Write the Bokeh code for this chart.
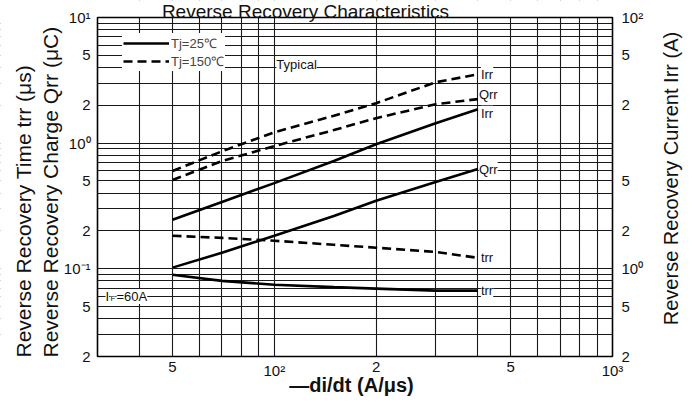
import math
from bokeh.plotting import figure
from bokeh.models import (Range1d, LogScale, FixedTicker, Grid, Label, Legend, LegendItem,
                          BoxAnnotation)
from bokeh.embed import file_html
from bokeh.resources import INLINE

# ---------------- data ----------------
di_dt = [50, 70, 100, 150, 200, 300, 400]          # -di/dt (A/us)
irr_25 = [2.45, 3.4, 4.8, 7.2, 9.8, 14.4, 18.6]    # Irr (A), Tj=25C
irr_150 = [6.0, 8.6, 12.2, 16.5, 20.8, 30.5, 35.3] # Irr (A), Tj=150C
qrr_25 = [0.102, 0.134, 0.183, 0.263, 0.347, 0.49, 0.622]   # Qrr (uC)
qrr_150 = [0.508, 0.72, 0.947, 1.27, 1.58, 2.04, 2.24]
trr_25 = [0.0896, 0.080, 0.0746, 0.0713, 0.0694, 0.0669, 0.0669]  # trr (us)
trr_150 = [0.183, 0.176, 0.167, 0.155, 0.147, 0.136, 0.122]

x_ticks = [50, 100, 200, 500, 1000]
x_tick_labels = ["5", "10²", "2", "5", "10³"]
y_ticks = [0.02, 0.05, 0.1, 0.2, 0.5, 1, 2, 5, 10]
y_tick_labels = ["2", "5", "10⁻¹", "2", "5", "10⁰", "2", "5", "10¹"]
y2_ticks = [0.2, 0.5, 1, 2, 5, 20, 50, 100]
y2_tick_labels = ["2", "5", "10⁰", "2", "5", "2", "5", "10²"]
x_grid = [40, 50, 60, 70, 80, 90, 100, 200, 300, 400, 500, 600, 700, 800, 900]
y_grid = [0.03, 0.04, 0.05, 0.06, 0.07, 0.08, 0.09,
          0.1, 0.2, 0.3, 0.4, 0.5, 0.6, 0.7, 0.8, 0.9,
          1, 2, 3, 4, 5, 6, 7, 8, 9]
X_MIN, X_MAX = 30, 1000
Y_MIN, Y_MAX = 0.02, 10
IRR_FACTOR = 10   # right axis (A) = left axis value x 10

title_text = "Reverse Recovery Characteristics"
x_title = "—di/dt (A/μs)"
y_title_1 = "Reverse Recovery Time trr (μs)"
y_title_2 = "Reverse Recovery Charge Qrr (μC)"
y2_title = "Reverse Recovery Current Irr (A)"

FONT = "Liberation Sans"
INK = "#111111"

# ---------------- layout (pixels) ----------------
W, H = 690, 408
BOX_L, BOX_R, BOX_T, BOX_B = 97, 612, 17, 356      # chart box, page coords from top-left
kx = (BOX_R - BOX_L) / math.log10(X_MAX / X_MIN)
ky = (BOX_B - BOX_T) / math.log10(Y_MAX / Y_MIN)
x_lo = X_MIN / 10 ** (BOX_L / kx)
x_hi = X_MAX * 10 ** ((W - BOX_R) / kx)
y_lo = Y_MIN / 10 ** ((H - BOX_B) / ky)
y_hi = Y_MAX * 10 ** (BOX_T / ky)

p = figure(x_axis_type="log", y_axis_type="log",
           x_axis_location=None, y_axis_location=None,
           x_range=(x_lo, x_hi), y_range=(y_lo, y_hi),
           frame_width=W, frame_height=H,
           min_border_left=0, min_border_right=0, min_border_top=0, min_border_bottom=0,
           output_backend="svg", toolbar_location=None,
           background_fill_color="white", border_fill_color="white")
p.outline_line_color = None
p.extra_y_ranges = {"irr": Range1d(y_lo * IRR_FACTOR, y_hi * IRR_FACTOR)}
p.extra_y_scales = {"irr": LogScale()}

# grids (own ones only)
p.center = [r for r in p.center if not isinstance(r, Grid)]
for dim, ticks in ((0, x_grid), (1, y_grid)):
    g = Grid(dimension=dim, ticker=FixedTicker(ticks=ticks),
             grid_line_color="#1a1a1a", grid_line_width=1.1, grid_line_alpha=1.0)
    p.add_layout(g)

LW = 2.6
DASH = "9 5"
r_irr25 = p.line(di_dt, irr_25, y_range_name="irr", line_width=LW, line_color="black")
r_irr150 = p.line(di_dt, irr_150, y_range_name="irr", line_width=LW, line_color="black", line_dash=DASH)
r_qrr25 = p.line(di_dt, qrr_25, line_width=LW, line_color="black")
r_qrr150 = p.line(di_dt, qrr_150, line_width=LW, line_color="black", line_dash=DASH)
r_trr25 = p.line(di_dt, trr_25, line_width=LW, line_color="black")
r_trr150 = p.line(di_dt, trr_150, line_width=LW, line_color="black", line_dash=DASH)

# white margins around the chart box, then its border
for kw in (dict(right=X_MIN), dict(left=X_MAX), dict(bottom=Y_MAX), dict(top=Y_MIN)):
    p.add_layout(BoxAnnotation(fill_color="white", fill_alpha=1.0, line_alpha=0, **kw))
p.add_layout(BoxAnnotation(left=X_MIN, right=X_MAX, bottom=Y_MIN, top=Y_MAX,
                           fill_alpha=0, line_color="black", line_width=1.6, line_alpha=1.0))

def text(**kw):
    base = dict(text_font=FONT, text_color=INK)
    base.update(kw)
    p.add_layout(Label(**base))

# tick labels
for t, s in zip(y_ticks, y_tick_labels):
    text(x=X_MIN, y=t, x_offset=-7, text=s, text_align="right", text_baseline="middle",
         text_font_size="15px")
for t, s in zip(y2_ticks, y2_tick_labels):
    text(x=X_MAX, y=t, y_range_name="irr", x_offset=9, text=s, text_align="left",
         text_baseline="middle", text_font_size="15px")
for t, s in zip(x_ticks, x_tick_labels):
    text(x=t, y=Y_MIN, y_offset=-5, text=s, text_align="center", text_baseline="top",
         text_font_size="15px")

# axis titles (screen px from the bottom-left corner)
text(x=23, y=H - 357, x_units="screen", y_units="screen", angle=math.pi / 2, text=y_title_1,
     text_align="left", text_baseline="middle", text_font_size="21px")
text(x=50, y=H - 357, x_units="screen", y_units="screen", angle=math.pi / 2, text=y_title_2,
     text_align="left", text_baseline="middle", text_font_size="21px")
text(x=670, y=H - 178, x_units="screen", y_units="screen", angle=math.pi / 2, text=y2_title,
     text_align="center", text_baseline="middle", text_font_size="20px")
text(x=351, y=H - 384, x_units="screen", y_units="screen", text=x_title,
     text_align="center", text_baseline="middle", text_font_size="20px", text_font_style="bold")
text(x=305, y=H, x_units="screen", y_units="screen", text=title_text,
     text_align="center", text_baseline="top", text_font_size="19px")

# legend
legend = Legend(items=[LegendItem(label="Tj=25℃", renderers=[r_irr25]),
                       LegendItem(label="Tj=150℃", renderers=[r_irr150])],
                location=(122, H - 71), padding=1, spacing=0, margin=0,
                glyph_width=46, glyph_height=18, label_height=18, label_standoff=2,
                label_text_font=FONT, label_text_font_size="13px",
                border_line_alpha=0, background_fill_color="white", background_fill_alpha=1)
p.add_layout(legend)

def curve_label(s, x, y, rng="default", dy=0, dx=3):
    text(x=x, y=y, y_range_name=rng, text=s, x_offset=dx, y_offset=dy,
         text_align="left", text_baseline="middle", text_font_size="13px",
         background_fill_color="white", background_fill_alpha=1.0)

curve_label("Irr", di_dt[-1], irr_150[-1], rng="irr")
curve_label("Qrr", di_dt[-1], qrr_150[-1], dy=5, dx=1)
curve_label("Irr", di_dt[-1], irr_25[-1], rng="irr", dy=-4)
curve_label("Qrr", di_dt[-1], qrr_25[-1], dx=1)
curve_label("trr", di_dt[-1], trr_150[-1])
curve_label("trr", di_dt[-1], trr_25[-1])

# annotations
bg = dict(background_fill_color="white", background_fill_alpha=1.0)
text(x=100, y=4, x_offset=2, y_offset=3, text="Typical", text_align="left",
     text_baseline="middle", text_font_size="13px", **bg)
text(x=X_MIN, y=0.06, x_offset=8, text="I", text_align="left", text_baseline="middle",
     text_font_size="13px", **bg)
text(x=X_MIN, y=0.06, x_offset=13, y_offset=-2, text="F", text_align="left",
     text_baseline="middle", text_font_size="8px", **bg)
text(x=X_MIN, y=0.06, x_offset=19, text="=60A", text_align="left", text_baseline="middle",
     text_font_size="13px", **bg)

open("out.html", "w").write(file_html(p, INLINE))
